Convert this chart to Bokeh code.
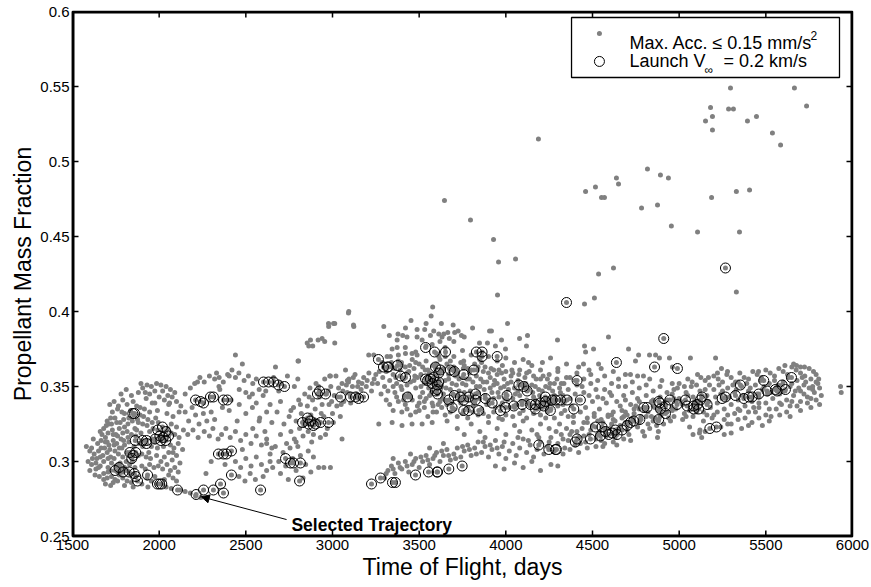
from bokeh.plotting import figure
from bokeh.models import FixedTicker, Label, Arrow, NormalHead, Range1d, BoxAnnotation, Title
from bokeh.embed import file_html
from bokeh.resources import INLINE

# ---------------- data (time of flight [days], propellant mass fraction) ----------------
x_ticks = [1500, 2000, 2500, 3000, 3500, 4000, 4500, 5000, 5500, 6000]
y_ticks = [0.25, 0.3, 0.35, 0.4, 0.45, 0.5, 0.55, 0.6]
y_tick_labels = ["0.25", "0.3", "0.35", "0.4", "0.45", "0.5", "0.55", "0.6"]

gray_left_blob = [
    (1880,.346),(1905,.349),(1930,.351),(1955,.350),(1985,.352),(2010,.351),(2040,.350),(2065,.348),(1840,.344),(2090,.346),
    (1790,.341),(1815,.338),(1850,.340),(1870,.337),(1925,.342),(1960,.339),(2000,.343),(2030,.341),(2060,.339),(2100,.340),(2125,.337),
    (1730,.333),(1760,.335),(1800,.332),(1835,.334),(1890,.331),(1915,.335),(1945,.333),(1990,.334),(2045,.332),(2080,.330),(2115,.333),
    (1700,.327),(1725,.325),(1745,.329),(1775,.326),(1795,.328),(1820,.325),(1845,.327),(1880,.326),(1905,.325),(1935,.328),(1960,.326),(1980,.329),(2070,.325),(2100,.323),
    (1660,.320),(1680,.322),(1705,.319),(1730,.321),(1750,.318),(1770,.322),(1790,.319),(1815,.320),(1840,.318),(1870,.321),(1895,.319),(1945,.320),(1965,.322),(2090,.318),(2115,.316),(2140,.321),
    (1620,.315),(1645,.312),(1665,.314),(1690,.313),(1710,.311),(1735,.314),(1755,.312),(1780,.315),(1800,.311),(1825,.313),(1885,.312),(1955,.310),(1975,.313),(2065,.311),(2085,.309),(2110,.312),(2135,.308),
    (1580,.310),(1600,.307),(1625,.305),(1650,.307),(1675,.304),(1700,.306),(1720,.303),(1745,.307),(1765,.305),(1790,.303),(1815,.306),(1880,.304),(1900,.305),(1925,.303),(1950,.302),(1985,.304),(2030,.303),(2055,.306),(2075,.301),(2100,.304),(2120,.299),
    (1590,.300),(1610,.298),(1635,.299),(1660,.297),(1680,.300),(1705,.296),(1725,.299),(1750,.297),(1775,.299),(1800,.296),(1830,.298),(1900,.297),(1920,.295),(1945,.298),(1970,.296),(1995,.297),(2020,.295),(2045,.298),(2065,.294),(2090,.296),(2110,.293),
    (1600,.294),(1630,.291),(1655,.290),(1680,.292),(1700,.289),(1725,.290),(1745,.288),(1770,.291),(1790,.289),(1815,.287),(1840,.286),(1930,.289),(1955,.287),(1975,.290),(2030,.288),(2055,.291),(2080,.289),(2100,.287),
    (1690,.285),(1720,.284),(1800,.284),(1850,.283),(1900,.285),(1935,.283),(2040,.283),(2070,.282),(2120,.281),(2150,.280),(2180,.279),(2210,.277),(2240,.276),
    (1895,.352),(1920,.346),(1945,.345),(1975,.347),(2020,.347),(2050,.344),(2075,.343),(1715,.338),(1740,.340),(1765,.337),(1780,.345),(1810,.348),
    (1640,.302),(1665,.309),(1690,.316),(1715,.308),(1740,.302),(1760,.317),(1785,.309),(1810,.300),(1835,.304),(1855,.310),(1860,.296),(1720,.294),
    (1760,.293),(1780,.296),(1830,.292),(1650,.296),(1615,.302),(1700,.313),(1735,.318),(1800,.323),(1825,.329),(1855,.331),(1860,.322),
    (1610,.309),(1635,.295),(1660,.303),(1685,.309),(1705,.302),(1710,.325),(1740,.311),(1765,.298),(1770,.309),(1795,.314),(1815,.294),(1820,.316),
    (1845,.300),(1865,.317),(1875,.328),(1890,.336),(1905,.310),(1910,.330),(1930,.324),(1940,.306),(1960,.315),(1975,.339),(1990,.309),(1995,.326),
    (2010,.300),(2025,.310),(2050,.322),(2055,.338),(2070,.319),(2080,.306),(1680,.288),(1705,.293),(1735,.286),(1760,.287),(1785,.293),(1670,.318),
    (1695,.324),(1720,.329),(1755,.326),(1785,.333),
]

gray_mid_left = [
    (2150,.333),(2170,.327),(2190,.336),(2210,.331),(2230,.325),(2255,.332),(2275,.327),(2300,.333),(2320,.328),(2165,.318),(2195,.321),(2225,.316),
    (2260,.320),(2290,.317),(2310,.322),(2340,.315),(2150,.345),(2180,.349),(2205,.352),(2235,.356),(2260,.353),(2290,.357),(2320,.355),(2345,.350),
    (2370,.353),(2395,.358),(2420,.361),(2440,.356),(2460,.359),(2490,.354),(2515,.357),(2540,.352),(2560,.355),(2350,.348),
    (2360,.318),(2385,.322),(2410,.316),(2440,.320),(2470,.314),(2500,.318),(2530,.312),(2560,.317),(2590,.311),(2620,.315),
    (2440,.300),(2470,.296),(2500,.302),(2530,.297),(2560,.303),(2590,.298),(2620,.294),(2460,.290),(2495,.287),(2525,.292),(2555,.288),
    (2600,.290),(2640,.300),(2650,.309),(2380,.298),(2300,.300),(2270,.292),
    (2346,.356),(2404,.357),(2462,.348),(2500,.346),(2538,.345),(2577,.348),(2615,.347),(2365,.336),(2404,.334),(2462,.338),(2500,.332),(2538,.336),(2577,.327),
    (2540,.322),(2580,.329),(2610,.320),(2650,.326),(2680,.333),(2700,.340),(2560,.339),(2600,.344),(2640,.338),(2690,.347),(2520,.343),(2620,.333),
    (2660,.356),(2700,.352),(2740,.357),(2780,.350),(2800,.355),(2221,.353),(2440,.371),(2331,.359),(2480,.365),(2415,.341),(2450,.327),(2480,.308),
]

gray_mid = [
    (2700,.318),(2720,.325),(2735,.312),(2750,.330),(2760,.320),(2775,.336),(2780,.315),(2790,.327),(2805,.341),(2810,.322),(2820,.332),(2830,.317),
    (2840,.345),(2845,.328),(2855,.337),(2860,.320),(2870,.349),(2875,.331),(2885,.341),(2890,.318),(2900,.335),(2905,.352),(2915,.327),(2925,.343),
    (2930,.316),(2940,.338),(2950,.330),(2955,.355),(2965,.345),(2970,.322),(2980,.338),(2990,.350),(3000,.332),(3010,.344),(3020,.357),(3025,.337),
    (3035,.349),(3045,.330),(3055,.352),(3065,.340),(3075,.361),(3085,.346),(3095,.355),(3105,.339),(3115,.350),(3130,.358),(3140,.345),(3150,.353),
    (3165,.348),(3180,.356),(3195,.350),(3210,.359),(3225,.347),(3240,.355),
    (2620,.312),(2640,.305),(2655,.296),(2670,.310),(2690,.300),(2700,.292),(2715,.306),(2730,.297),(2745,.288),(2755,.309),(2770,.302),(2790,.294),
    (2800,.310),(2815,.304),(2830,.289),(2845,.298),(2860,.307),(2875,.293),(2890,.303),(2920,.296),(2950,.296),(2988,.296),(3055,.315),
    (3094,.400),(2978,.390),(3013,.392),(3123,.390),(2873,.381),(2863,.377),(2886,.377),(2917,.381),(2940,.382),(2955,.380),(3013,.379),(2801,.367),
    (2671,.363),(2984,.357),(2804,.367),(2854,.379),(2977,.392),(3006,.392),(3092,.399),(3121,.391),(2988,.357),(3086,.354),(3092,.353),
    (3267,.325),(3344,.326),(3401,.324),(3459,.325),(3517,.325),(3575,.326),(3661,.327),
    (2760,.334),(2790,.313),(2815,.338),(2835,.324),(2865,.343),(2880,.313),(2895,.328),(2920,.350),(2935,.332),(2960,.318),(2975,.347),(2995,.340),
    (3005,.326),(3030,.343),(3050,.338),(3060,.347),(3080,.351),(3100,.345),(3120,.356),(3145,.350),(3170,.352),(3200,.354),(3230,.352),(3250,.358),
]

gray_upper_band = [
    (3340,.366),(3380,.367),(3420,.363),(3460,.368),(3500,.365),(3540,.367),(3580,.364),(3620,.368),(3660,.365),(3700,.363),(3740,.366),(3780,.362),(3820,.365),(3880,.363),(3930,.361),(3980,.364),
    (3310,.360),(3350,.358),(3390,.361),(3430,.359),(3470,.362),(3510,.358),(3550,.361),(3590,.357),(3630,.360),(3670,.358),(3710,.361),(3750,.356),(3790,.359),(3830,.357),(3870,.360),(3910,.356),(3950,.358),(3990,.355),(4030,.357),(4070,.354),(4110,.356),
    (3330,.354),(3370,.352),(3410,.355),(3450,.353),(3490,.356),(3530,.352),(3570,.355),(3610,.351),(3650,.354),(3690,.352),(3730,.355),(3770,.351),(3810,.353),(3850,.350),(3890,.353),(3930,.351),(3970,.349),(4010,.352),(4050,.349),(4090,.351),(4130,.348),(4170,.350),(4210,.347),(4250,.349),
    (3320,.347),(3360,.346),(3400,.348),(3440,.345),(3480,.349),(3520,.346),(3560,.344),(3600,.347),(3640,.345),(3680,.348),(3720,.344),(3760,.346),(3800,.343),(3840,.346),(3880,.344),(3920,.346),(3960,.343),(4000,.345),(4040,.342),(4080,.344),(4120,.341),(4160,.343),(4200,.340),(4240,.342),(4280,.344),(4320,.341),
    (3380,.340),(3420,.338),(3460,.341),(3500,.339),(3540,.342),(3580,.337),(3620,.340),(3660,.338),(3700,.335),(3740,.339),(3780,.336),(3820,.339),(3860,.335),(3900,.338),(3940,.336),(3980,.339),(4020,.336),(4060,.338),(4100,.334),(4140,.337),(4180,.335),(4220,.338),(4260,.335),(4300,.337),(4340,.334),
    (3400,.333),(3450,.331),(3500,.334),(3550,.330),(3600,.333),(3650,.331),(3720,.330),(3780,.329),(3840,.331),(3900,.330),(3960,.329),(4040,.330),(4120,.329),(4200,.331),(4280,.329),(4360,.330),
    (3345,.363),(3365,.356),(3395,.350),(3415,.344),(3445,.364),(3475,.357),(3505,.343),(3535,.361),(3555,.349),(3575,.339),(3595,.362),(3615,.354),
    (3635,.342),(3655,.349),(3675,.362),(3695,.345),(3715,.351),(3735,.341),(3755,.362),(3775,.355),(3795,.347),(3815,.340),(3835,.361),(3855,.355),
    (3875,.348),(3895,.341),(3915,.362),(3935,.354),(3955,.346),(3975,.359),(3995,.342),(4015,.348),(4035,.361),(4055,.345),(4075,.358),(4095,.340),
    (4115,.352),(4135,.360),(4155,.346),(4175,.355),(4195,.344),(4215,.357),(4235,.336),(4255,.352),(4275,.339),(4295,.355),(4315,.346),(4335,.352),
    (3290,.356),(3300,.350),(3270,.360),(3280,.345),(3310,.341),(3330,.338),(3350,.334),(3260,.352),
    (3600,.372),(3650,.376),(3700,.370),(3750,.374),(3800,.371),(3700,.380),(3760,.383),(3620,.380),(3540,.377),(3480,.373),(3420,.376),(3380,.371),
    (3850,.368),(3900,.370),(3950,.367),(4000,.369),(4050,.366),(4100,.368),(4150,.364),(4200,.361),(4250,.358),(4300,.360),(4350,.356),(4400,.354),
    (4320,.352),(4360,.348),(4400,.345),(4440,.350),(4480,.344),(4520,.348),(4560,.342),(4600,.346),(4640,.340),(4680,.344),(4720,.338),(4760,.342),(4800,.336),(4840,.340),(4880,.334),(4920,.338),(4960,.336),
    (4340,.340),(4380,.337),(4420,.341),(4460,.336),(4500,.340),(4540,.335),(4580,.339),(4620,.333),(4660,.337),(4700,.331),(4740,.335),(4780,.330),(4820,.333),(4860,.329),(4900,.332),
    (4370,.356),(4410,.359),(4450,.355),(4490,.358),(4530,.354),(4570,.357),(4610,.352),(4650,.355),(4690,.350),(4730,.353),(4770,.349),(4810,.351),(4850,.347),(4890,.350),(4930,.346),(4970,.348),
    (4390,.330),(4430,.333),(4470,.329),(4510,.332),(4550,.328),(4590,.331),(4630,.327),(4670,.329),(4710,.326),
    (4300,.362),(4350,.365),(4420,.363),(4480,.361),(4550,.362),(4620,.360),(4690,.358),(4760,.357),(4830,.355),(4900,.354),(4960,.352),
    (3360,.362),(3400,.364),(3440,.360),(3480,.366),(3520,.363),(3560,.359),(3600,.365),(3640,.362),(3680,.367),(3720,.359),(3760,.364),(3800,.361),
    (3840,.363),(3860,.366),(3900,.359),(3960,.361),(4000,.360),(4040,.359),(4080,.361),(4120,.359),(4160,.357),(4200,.355),(4240,.355),(4280,.352),
    (3350,.350),(3390,.357),(3430,.351),(3470,.354),(3510,.350),(3550,.357),(3590,.353),(3630,.350),(3670,.355),(3710,.357),(3750,.352),(3790,.355),
    (3830,.350),(3870,.353),(3910,.349),(3950,.352),(3990,.350),(4030,.353),(4070,.347),(4110,.349),(4150,.351),(4190,.348),(4230,.350),(4270,.347),(4310,.349),
    (3370,.343),(3410,.341),(3450,.343),(3490,.337),(3530,.340),(3570,.346),(3610,.338),(3650,.341),(3690,.339),(3730,.347),(3770,.341),(3810,.337),
    (3850,.342),(3890,.338),(3930,.342),(3970,.337),(4010,.341),(4050,.336),(4090,.340),(4130,.339),(4170,.341),(4210,.336),(4250,.339),(4290,.341),(4330,.338),
    (3430,.335),(3480,.333),(3530,.336),(3580,.333),(3630,.336),(3680,.333),(3750,.332),(3810,.333),(3870,.332),(3930,.333),(4000,.331),(4080,.332),
    (4160,.332),(4240,.333),(4320,.332),
    (4330,.344),(4370,.342),(4410,.351),(4450,.346),(4490,.352),(4530,.343),(4570,.348),(4610,.344),(4650,.350),(4690,.341),(4730,.346),(4770,.340),
    (4810,.344),(4850,.341),(4890,.343),(4930,.341),(4970,.342),
]

gray_lower_band = [
    (3300,.289),(3320,.294),(3340,.297),(3360,.292),(3380,.299),(3400,.295),(3420,.300),(3440,.293),(3460,.298),(3480,.302),(3500,.296),(3520,.300),
    (3540,.304),(3560,.298),(3580,.302),(3600,.306),(3620,.300),(3640,.304),(3660,.308),(3680,.301),(3700,.305),(3720,.309),(3740,.303),(3760,.307),
    (3780,.311),(3800,.304),(3820,.309),(3840,.313),(3860,.306),(3880,.310),(3900,.303),(3920,.308),(3940,.314),(3960,.305),(3980,.310),(4000,.302),
    (4020,.307),(4040,.312),(4060,.304),(4080,.309),(4100,.315),(4120,.306),(4140,.311),(4160,.303),(4180,.308),(4200,.313),(4220,.305),(4240,.310),
    (4260,.316),(4280,.307),(4300,.312),(4320,.318),(4340,.309),(4360,.314),(4380,.320),(4400,.311),(4420,.316),(4440,.322),(4460,.313),(4480,.318),
    (4500,.324),(4520,.315),(4540,.320),(4560,.326),(4580,.317),(4600,.322),(4620,.328),(4640,.319),(4660,.324),(4680,.330),(4700,.321),(4720,.326),
    (4740,.332),(4760,.323),(4780,.328),(4800,.334),(4820,.325),(4840,.330),(4860,.336),(4880,.327),(4900,.332),(4920,.338),(4940,.329),(4960,.334),(4980,.340),
    (4310,.325),(4350,.322),(4390,.326),(4430,.312),(4470,.326),(4510,.330),(4550,.314),(4590,.330),(4630,.316),(4670,.334),(4710,.318),(4750,.337),
    (4790,.320),(4830,.322),(4870,.324),(4910,.325),(4950,.327),(4330,.305),(4370,.308),(4420,.306),(4470,.309),(4520,.310),(4570,.312),(4620,.313),(4680,.315),
    (3720,.322),(3760,.318),(3800,.325),(3850,.320),(3900,.326),(3950,.322),(4000,.318),(4050,.324),(4100,.327),(4150,.321),(4200,.325),(4250,.322),
    (3880,.316),(3980,.328),(4080,.320),(4180,.318),(4230,.329),
    (3940,.297),(3990,.295),(4050,.299),(4100,.296),(4150,.300),(4200,.294),(4260,.298),(4300,.297),(3350,.302),(3450,.305),(3560,.309),(3640,.312),
    (4330,.315),(4370,.318),(4410,.320),(4450,.317),(4490,.321),(4530,.318),(4570,.322),(4610,.325),(4650,.322),(4690,.326),(4730,.329),(4770,.326),
    (4810,.330),(4850,.327),(4890,.330),(4930,.333),(4970,.330),(4450,.326),(4530,.327),(4610,.331),(4690,.333),(4770,.335),(4850,.337),(4560,.310),
    (4640,.311),(4720,.314),(4800,.317),(4880,.320),
    (3310,.292),(3350,.295),(3390,.296),(3430,.297),(3470,.300),(3510,.303),(3550,.301),(3590,.304),(3630,.307),(3670,.304),(3710,.302),(3750,.310),
    (3790,.308),(3830,.305),(3870,.313),(3910,.311),(3950,.309),(3990,.313),(4070,.316),(4130,.314),(4190,.316),(4250,.313),(4290,.320),
]

gray_right_band = [
    (4960,.345),(5000,.342),(5040,.346),(5080,.343),(5120,.347),(5160,.344),(5200,.348),(5240,.345),(5280,.349),(5320,.346),(5360,.350),(5400,.347),
    (5440,.351),(5480,.348),(5520,.352),(5560,.349),(5600,.353),(5640,.350),(5680,.354),(5720,.351),(5760,.355),(5800,.352),
    (4980,.335),(5020,.338),(5060,.334),(5100,.337),(5140,.333),(5180,.336),(5220,.339),(5260,.335),(5300,.338),(5340,.341),(5380,.337),(5420,.340),
    (5460,.343),(5500,.339),(5540,.342),(5580,.345),(5620,.341),(5660,.344),(5700,.347),(5740,.343),(5780,.346),(5810,.349),
    (5000,.352),(5050,.355),(5100,.351),(5150,.354),(5200,.357),(5250,.353),(5300,.356),(5350,.359),(5400,.355),(5450,.358),(5500,.361),(5550,.357),
    (5600,.360),(5650,.363),(5700,.359),(5750,.362),(5790,.358),
    (5020,.328),(5080,.330),(5140,.327),(5200,.331),(5260,.328),(5320,.332),(5380,.329),(5440,.333),(5500,.331),(5560,.335),(5620,.333),(5680,.337),(5740,.339),(5790,.341),
    (5060,.323),(5120,.321),(5240,.323),(5300,.325),(5360,.322),(5420,.326),(5480,.324),
    (4990,.349),(5030,.332),(5070,.350),(5110,.340),(5150,.348),(5190,.329),(5230,.351),(5270,.342),(5310,.351),(5350,.334),(5390,.352),(5430,.336),
    (5470,.354),(5510,.345),(5550,.354),(5590,.338),(5630,.356),(5670,.347),(5710,.356),(5750,.349),(5790,.353),(5530,.330),(5650,.340),(5720,.345),
    (5770,.350),(5600,.347),(5460,.339),(5340,.353),(5610,.364),(5660,.365),(5700,.363),(5080,.318),(5130,.316),(5150,.320),(5260,.318),(5300,.319),
    (5010,.340),(5050,.344),(5090,.340),(5130,.344),(5170,.340),(5210,.343),(5250,.347),(5290,.343),(5330,.348),(5370,.344),(5410,.349),(5450,.345),
    (5490,.350),(5530,.346),(5570,.351),(5610,.347),(5650,.352),(5690,.349),(5730,.353),(5770,.348),(5805,.355),
    (5030,.350),(5075,.353),(5125,.356),(5175,.351),(5225,.355),(5275,.358),(5325,.353),(5375,.356),(5425,.360),(5475,.356),(5525,.359),(5575,.362),
    (5625,.358),(5675,.361),(5725,.357),(5775,.360),
    (5040,.330),(5100,.333),(5160,.331),(5220,.333),(5280,.331),(5340,.335),(5400,.333),(5460,.336),(5520,.335),(5580,.339),(5640,.337),(5700,.340),(5760,.342),
    (5280,.325),(5340,.328),(5400,.324),(5460,.329),(5520,.327),(5580,.331),(5640,.330),(5700,.334),(5760,.336),(5810,.338),(5820,.344),
]

gray_sparse = [
    (3646,.474),(3796,.461),(3929,.448),(3958,.433),(4056,.435),(3952,.411),(4511,.409),(4535,.425),(4621,.429),(4460,.480),(4517,.483),(4552,.476),
    (4569,.476),(4638,.489),(4650,.485),(4783,.469),(4817,.495),(4875,.471),(4892,.491),(4938,.489),(4955,.457),(5106,.453),(5187,.476),(5330,.480),
    (5406,.481),(5348,.453),(5330,.413),(5152,.527),(5192,.530),(5181,.536),(5192,.521),(5285,.535),(5313,.535),(5296,.549),(5394,.527),(5446,.530),
    (5538,.519),(5585,.511),(5665,.549),(5735,.537),(4188,.515),(4454,.405),(4010,.392),(3808,.389),(3906,.387),(3917,.387),(3744,.384),(4079,.382),
    (4125,.384),(4298,.381),(4592,.383),(3975,.381),(3848,.379),(3894,.379),(3940,.377),(3998,.375),(4119,.377),(4454,.377),(4506,.375),(4460,.373),
    (4258,.369),(4211,.366),(4131,.366),(4708,.375),(4748,.367),(4766,.371),(4829,.371),(4864,.371),(4886,.369),(4794,.357),(4719,.358),(4535,.365),
    (4448,.365),(4944,.369),(5065,.369),(5210,.369),(4961,.363),(5244,.362),(5279,.360),(5106,.358),(5169,.356),(5221,.359),(5677,.364),(5723,.363),
    (5458,.360),(3296,.390),(3578,.403),(3569,.397),(3453,.394),(3540,.392),(3628,.392),(3696,.391),(3421,.389),(3488,.388),(3532,.388),(3584,.387),
    (3613,.385),(3642,.385),(3665,.386),(3705,.386),(3725,.387),(3328,.384),(3378,.385),(3405,.384),(3430,.383),(3488,.383),(3517,.381),(3565,.384),
    (3632,.383),(3674,.382),(3373,.381),(3575,.378),(3344,.375),(3373,.376),(3421,.372),(3459,.372),(3488,.371),(3209,.371),(3238,.371),(3315,.370),
    (3334,.370),(3286,.366),(3398,.366),(3757,.367),(3613,.370),(3651,.370),(4875,.316),(5117,.319),(5931,.350),(5935,.346),
]

launch_vinf_points = [
    (1848,.332),(1858,.332),(1862,.314),(1904,.314),(1927,.314),(1927,.312),
    (1992,.321),(2019,.323),(2004,.317),(2038,.320),(2054,.317),(2010,.314),(2038,.314),(1977,.315),(2023,.316),
    (1831,.306),(1865,.306),(1842,.302),(1850,.304),(1746,.294),(1769,.296),(1792,.293),(1827,.293),(1856,.292),
    (1865,.290),(1875,.287),(1933,.291),(1990,.285),(2003,.285),(2015,.285),(2106,.281),(2213,.278),
    (2210,.341),(2238,.340),(2256,.339),(2296,.343),(2313,.343),(2371,.341),(2394,.341),
    (2342,.305),(2371,.305),(2388,.305),(2417,.307),(2417,.291),(2256,.281),(2313,.281),(2354,.285),(2371,.279),(2585,.281),
    (2602,.353),(2631,.353),(2660,.353),(2688,.351),(2723,.350),(2729,.302),(2758,.299),(2775,.299),(2815,.299),(2810,.287),
    (2827,.326),(2856,.329),(2873,.327),(2902,.325),(2931,.326),(2977,.326),(2862,.325),(2890,.324),
    (2913,.345),(2925,.347),(2960,.345),(3046,.343),(3104,.343),(3133,.343),(3150,.342),(3179,.343),
    (3225,.285),(3277,.289),(3346,.286),(3363,.286),(3265,.368),(3294,.363),(3317,.363),(3323,.363),(3375,.364),
    (3392,.357),(3421,.356),(3433,.343),(3479,.291),(3554,.293),(3606,.293),
    (3537,.376),(3589,.373),(3594,.363),(3583,.356),(3606,.351),(3537,.355),(3548,.354),(3594,.347),(3606,.345),
    (4350,.406),(4911,.382),(3652,.373),(3830,.373),(3863,.373),(3863,.370),(3950,.370),
    (3613,.359),(3623,.361),(3680,.361),(3703,.360),(3757,.358),(3815,.361),(3565,.355),(3575,.352),(3603,.348),(3613,.353),
    (3671,.341),(3703,.344),(3738,.343),(3757,.341),(3786,.343),(3825,.345),(3825,.341),(3882,.342),(3921,.339),(3969,.334),(3998,.336),
    (3690,.336),(3757,.334),(3786,.334),(3844,.334),(4007,.344),(4046,.337),(4075,.351),(4103,.350),(4123,.347),(4094,.338),
    (4142,.338),(4171,.338),(4200,.339),(4228,.340),(4228,.343),(4219,.337),(4267,.341),(4286,.341),(4315,.341),(4353,.341),(4392,.335),(4430,.341),(4411,.354),
    (4171,.335),(4257,.334),(4190,.311),(4248,.308),(4286,.308),(4292,.308),(4401,.313),(4411,.315),(4488,.315),
    (4517,.323),(4555,.323),(4546,.317),(4575,.320),(4594,.318),(4613,.319),(4632,.321),(4642,.318),(4671,.321),(4700,.324),(4719,.326),(4738,.327),(4773,.328),
    (4796,.336),(4815,.336),(4882,.340),(4888,.339),(4892,.335),(4921,.337),(4921,.332),(4882,.328),(4946,.341),
    (4988,.338),(5036,.341),(5046,.337),(5084,.337),(5104,.338),(5123,.341),(5132,.343),(5161,.338),(5113,.335),(5084,.335),
    (5177,.322),(5215,.323),(5248,.342),(5267,.343),(5325,.344),(5353,.351),(5373,.342),(5402,.343),(5421,.343),(5459,.345),
    (5488,.354),(5507,.347),(5555,.348),(5565,.347),(5594,.351),(5613,.348),(5648,.356),
    (3671,.295),(3603,.293),(3748,.297),(4638,.366),(4858,.363),(4990,.362),(5267,.429),
]

legend_labels = ["Max. Acc. \u2264 0.15 mm/s", "2", "Launch V", "\u221e", "= 0.2 km/s"]
x_title = "Time of Flight, days"
y_title = "Propellant Mass Fraction"
annotation_text = "Selected Trajectory"
selected_trajectory = (2213, .278)

# ---------------- figure ----------------
gray_all = (gray_left_blob + gray_mid_left + gray_mid + gray_upper_band +
            gray_lower_band + gray_right_band + gray_sparse)
gx = [p_[0] for p_ in gray_all]
gy = [p_[1] for p_ in gray_all]
cx = [p_[0] for p_ in launch_vinf_points]
cy = [p_[1] for p_ in launch_vinf_points]

FONT = "Liberation Sans"
GRAY = "#808080"
X0, X1, Y0, Y1 = 1500, 6000, 0.25, 0.6
PX_X = 4500 / 780.0    # days per screen pixel
PX_Y = 0.35 / 525.0    # mass fraction per screen pixel
TICK = 6               # tick length in pixels

p = figure(width=871, height=587, x_range=Range1d(X0, X1), y_range=Range1d(Y0, Y1),
           output_backend="svg", toolbar_location=None,
           min_border_left=72, min_border_right=19, min_border_top=11, min_border_bottom=51)
p.background_fill_color = "white"
p.border_fill_color = "white"
p.outline_line_color = "black"
p.outline_line_width = 1.5
p.xgrid.grid_line_color = None
p.ygrid.grid_line_color = None

xa = p.below[0]
ya = p.left[0]
xa.ticker = FixedTicker(ticks=x_ticks)
ya.ticker = FixedTicker(ticks=y_ticks)
ya.major_label_overrides = {v: s for v, s in zip(y_ticks, y_tick_labels)}
for ax in (xa, ya):
    ax.axis_line_color = "black"
    ax.axis_line_width = 1.5
    ax.major_tick_line_color = "black"
    ax.major_tick_in = 5
    ax.major_tick_out = 0
    ax.minor_tick_line_color = None
    ax.major_label_text_font = FONT
    ax.major_label_text_font_size = "15px"
    ax.major_label_text_color = "black"
    ax.major_label_standoff = 3
    ax.axis_label_text_font = FONT
    ax.axis_label_text_font_size = "23px"
    ax.axis_label_text_font_style = "normal"
    ax.axis_label_text_color = "black"
xa.axis_label = x_title
xa.axis_label_standoff = 1

# y axis title in the left margin
p.add_layout(Title(text=y_title, align="center", text_font=FONT, text_font_size="23px",
                   text_font_style="normal", text_color="black", standoff=4), "left")

# frame box as a glyph, inset by one pixel so it is not clipped away
p.quad(left=[X0 + 1.0 * PX_X], right=[X1 - 1.0 * PX_X], bottom=[Y0 + 1.0 * PX_Y], top=[Y1 - 1.0 * PX_Y],
       fill_color=None, line_color="black", line_width=2)

# inward tick marks on all four sides, derived from the tick arrays
inner_x = x_ticks[1:-1]
inner_y = y_ticks[1:-1]
p.segment(x0=inner_x + inner_x, x1=inner_x + inner_x,
          y0=[Y0 + PX_Y] * len(inner_x) + [Y1 - PX_Y] * len(inner_x),
          y1=[Y0 + TICK * PX_Y] * len(inner_x) + [Y1 - TICK * PX_Y] * len(inner_x),
          line_color="black", line_width=1.5)
p.segment(y0=inner_y + inner_y, y1=inner_y + inner_y,
          x0=[X0 + PX_X] * len(inner_y) + [X1 - PX_X] * len(inner_y),
          x1=[X0 + TICK * PX_X] * len(inner_y) + [X1 - TICK * PX_X] * len(inner_y),
          line_color="black", line_width=1.5)

p.scatter(gx, gy, size=5, color=GRAY, line_color=None)
p.scatter(cx, cy, size=5, color=GRAY, line_color=None)
p.scatter(cx, cy, marker="circle", size=10, fill_color=None, line_color="black", line_width=1)

# legend
box = BoxAnnotation(left=4379, right=5925, bottom=0.556, top=0.596, fill_color="white", fill_alpha=1,
                    line_color="black", line_alpha=1, line_width=1.3, level="underlay")
p.add_layout(box)
p.scatter([4540], [0.5853], size=5, color=GRAY, line_color=None)
p.scatter([4540], [0.5667], marker="circle", size=10, fill_color=None, line_color="black", line_width=1)

def lab(x, y, t, size, style="normal"):
    l = Label(x=x, y=y, text=t, text_font=FONT, text_font_size=size, text_font_style=style,
              text_color="black", text_baseline="alphabetic", text_align="left", level="overlay")
    p.add_layout(l)

lab(4713, 0.5787, legend_labels[0], "18px")
lab(5758, 0.5840, legend_labels[1], "12px")
lab(4713, 0.5673, legend_labels[2], "18px")
lab(5146, 0.5613, legend_labels[3], "12px")
lab(5256, 0.5673, legend_labels[4], "18px")

# annotation
lab(2763, 0.2580, annotation_text, "17.5px", "bold")
p.add_layout(Arrow(end=NormalHead(size=8, fill_color="black", line_color="black"),
                   x_start=2735, y_start=0.2613, x_end=selected_trajectory[0] + 30, y_end=selected_trajectory[1] - 0.0015,
                   line_color="black", line_width=1))

open("out.html", "w").write(file_html(p, INLINE))
